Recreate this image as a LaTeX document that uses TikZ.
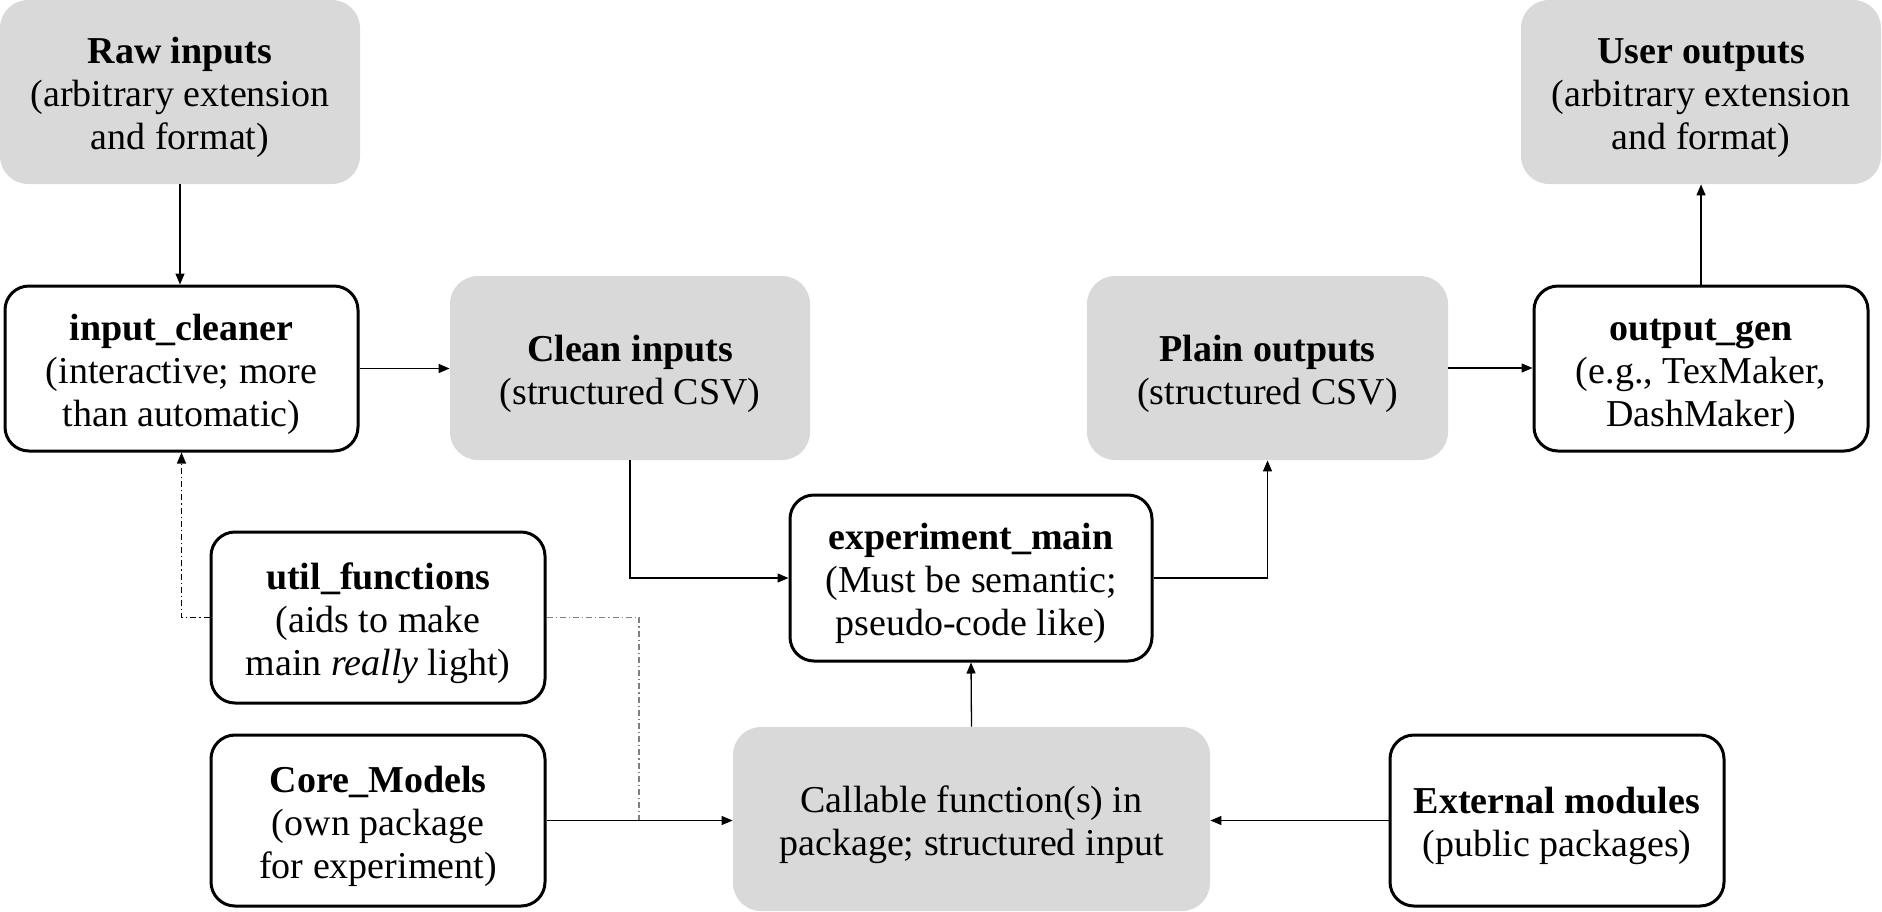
\documentclass[tikz,border=0pt]{standalone}
\usepackage{fontspec}
\setmainfont{Liberation Serif}
\usetikzlibrary{arrows.meta}
\definecolor{boxgray}{HTML}{D9D9D9}
\definecolor{dashgray}{HTML}{808080}
\newcommand\mlines[1]{\raisebox{-3pt}[\height][\depth]{\begin{tabular}{@{}c@{}}#1\end{tabular}}}
\begin{document}
\begin{tikzpicture}[x=0.5pt,y=-0.5pt,
  every node/.style={font=\fontsize{19}{21.5}\selectfont, inner sep=0pt},
  wbox/.style={draw=black, line width=1.5pt, fill=white, rounded corners=12pt},
  gbox/.style={fill=boxgray, rounded corners=14pt},
  conn/.style={line width=0.65pt, -{Triangle[length=5.5pt,width=4.5pt]}},
  dashdot/.style={line width=0.65pt, dash pattern=on 3pt off 1.5pt on 0.6pt off 1.5pt}
]
\useasboundingbox (0,0) rectangle (1882,911);

\node[gbox, minimum width=180pt, minimum height=92pt] (raw) at (180,92)
  {\mlines{\textbf{Raw inputs}\\(arbitrary extension\\and format)}};
\node[wbox, minimum width=176.5pt, minimum height=82.5pt] (clean) at (181.5,368.5)
  {\mlines{\textbf{input\_cleaner}\\(interactive; more\\than automatic)}};
\node[gbox, minimum width=180pt, minimum height=92pt] (cin) at (630,368)
  {\mlines{\textbf{Clean inputs}\\(structured CSV)}};
\node[gbox, minimum width=180.5pt, minimum height=92pt] (pout) at (1267.5,368)
  {\mlines{\textbf{Plain outputs}\\(structured CSV)}};
\node[wbox, minimum width=167pt, minimum height=82.5pt] (ogen) at (1701,368.5)
  {\mlines{\textbf{output\_gen}\\(e.g., TexMaker,\\DashMaker)}};
\node[gbox, minimum width=180pt, minimum height=92pt] (uout) at (1701,92)
  {\mlines{\textbf{User outputs}\\(arbitrary extension\\and format)}};
\node[wbox, minimum width=181pt, minimum height=83pt] (emain) at (971,578)
  {\mlines{\textbf{experiment\_main}\\(Must be semantic;\\pseudo-code like)}};
\node[wbox, minimum width=167pt, minimum height=85.5pt] (util) at (378,617.5)
  {\mlines{\textbf{util\_functions}\\(aids to make\\main \textit{really} light)}};
\node[wbox, minimum width=167pt, minimum height=85.5pt] (core) at (378,820.5)
  {\mlines{\textbf{Core\_Models}\\(own package\\for experiment)}};
\node[gbox, minimum width=238.5pt, minimum height=92pt] (call) at (971.5,819)
  {\mlines{Callable function(s) in\\package; structured input}};
\node[wbox, minimum width=167pt, minimum height=85.5pt] (ext) at (1557,820.5)
  {\mlines{\textbf{External modules}\\(public packages)}};

\coordinate (j) at (639,820);

\draw[conn] (raw.south) -- (raw.south |- clean.north);
\draw[conn] (clean.east) -- (clean.east -| cin.west);
\draw[conn] (cin.south) |- (emain.west);
\draw[conn] (emain.east) -| (pout.south);
\draw[conn] (pout.east) -- (pout.east -| ogen.west);
\draw[conn] (ogen.north) -- (uout.south);
\draw[conn] (call.north) -- (emain.south);
\draw[conn] (ext.west) -- (ext.west -| call.east);
\draw[conn] (core.east) -- (core.east -| call.west);
\draw[dashdot, -{Triangle[length=5.5pt,width=4.5pt]}] (util.west) -| (clean.south);
\draw[dashdot, draw=dashgray] (util.east) -| (j);
\end{tikzpicture}
\end{document}
